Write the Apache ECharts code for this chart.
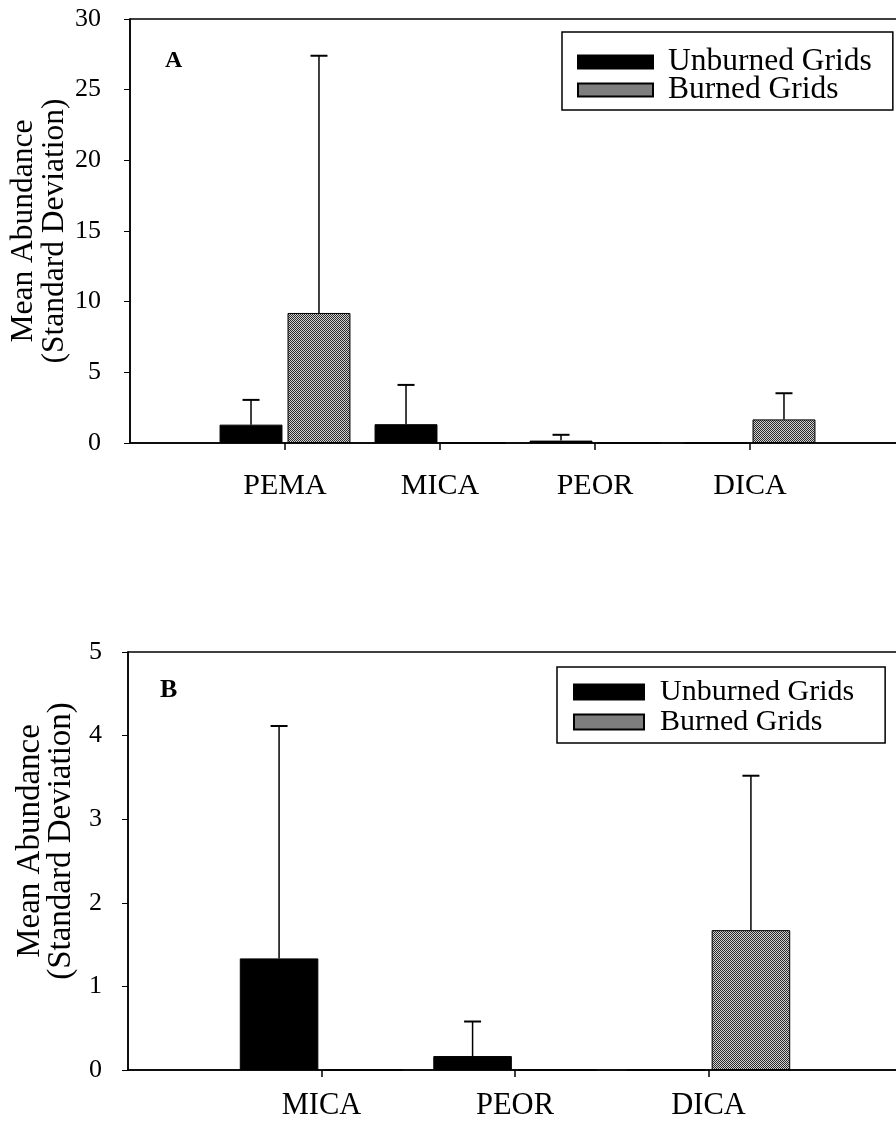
<!DOCTYPE html>
<html><head><meta charset="utf-8">
<script src="https://cdn.jsdelivr.net/npm/echarts@6/dist/echarts.min.js"></script>
<style>html,body{margin:0;padding:0;background:#fff;overflow:hidden;width:896px;height:1133px}#c{width:912px;height:1133px}</style>
</head><body><div id="c"></div>
<script>
// ---- Data (panel A: all species) ----
const speciesA = ['PEMA', 'MICA', 'PEOR', 'DICA'];
const unburnedMeanA = [1.3, 1.33, 0.17, 0];
const unburnedSdA   = [1.75, 2.78, 0.41, 0];
const burnedMeanA   = [9.2, 0, 0, 1.67];
const burnedSdA     = [18.2, 0, 0, 1.85];
const yTicksA = {min: 0, max: 30, interval: 5};

// ---- Data (panel B: rescaled, without PEMA) ----
const speciesB = ['MICA', 'PEOR', 'DICA'];
const unburnedMeanB = [1.335, 0.167, 0];
const unburnedSdB   = [2.78, 0.413, 0];
const burnedMeanB   = [0, 0, 1.673];
const burnedSdB     = [0, 0, 1.847];
const yTicksB = {min: 0, max: 5, interval: 1};

const seriesNames = ['Unburned Grids', 'Burned Grids'];
const panelLabels = ['A', 'B'];
const yTitle = 'Mean Abundance\n(Standard Deviation)';

const FONT = '"Liberation Serif", "Times New Roman", serif';
const BAR_FRAC = 0.406, GAP_FRAC = 0.08, CAP = 17;

// dithered grey fill for burned bars
const pc = document.createElement('canvas');
pc.width = 2; pc.height = 2;
const pctx = pc.getContext('2d');
pctx.fillStyle = '#d2d2d2'; pctx.fillRect(0, 0, 2, 2);
pctx.fillStyle = '#2a2a2a'; pctx.fillRect(0, 0, 1, 1); pctx.fillRect(1, 1, 1, 1);
const PATTERN = {image: pc, repeat: 'repeat'};

function padCats(c) { return [''].concat(c, [' ']); }
function padVals(v) { return ['-'].concat(v, ['-']); }

function errSeries(gi, cats, means, sds, side) {
  const data = [];
  means.forEach((m, i) => { if (sds[i] > 0) data.push([cats[i], m, m + sds[i]]); });
  return {
    type: 'custom', xAxisIndex: gi, yAxisIndex: gi, silent: true, z: 5,
    data: data, encode: {x: 0, y: [1, 2]},
    renderItem: function (params, api) {
      const x = api.value(0);
      const lo = api.coord([x, api.value(1)]);
      const hi = api.coord([x, api.value(2)]);
      const band = api.size([1, 0])[0];
      const bw = band * BAR_FRAC;
      const cx = lo[0] + side * bw * (1 + GAP_FRAC) / 2;
      return {type: 'group', children: [
        {type: 'line', shape: {x1: cx, y1: lo[1], x2: cx, y2: hi[1]}, style: {stroke: '#000', lineWidth: 1.5}},
        {type: 'line', shape: {x1: cx - CAP / 2, y1: hi[1], x2: cx + CAP / 2, y2: hi[1]}, style: {stroke: '#000', lineWidth: 2}}
      ]};
    }
  };
}

function xAxisCfg(gi, cats, labelMargin, fs) {
  const n = cats.length + 2;
  return {
    type: 'category', gridIndex: gi, data: padCats(cats), boundaryGap: false,
    axisLine: {lineStyle: {color: '#000', width: 1.5}},
    axisTick: {show: true, length: 7, lineStyle: {color: '#000', width: 1.5},
      interval: function (idx) { return idx > 0 && idx < n - 1; }},
    axisLabel: {color: '#000', fontFamily: FONT, fontSize: fs, margin: labelMargin,
      interval: 0},
    splitLine: {show: false}
  };
}
function yAxisCfg(gi, t, labelMargin, nameGap, nameSize, namePad) {
  return {
    type: 'value', gridIndex: gi, min: t.min, max: t.max, interval: t.interval,
    axisLine: {show: true, lineStyle: {color: '#000', width: 1.5}},
    axisTick: {show: true, length: 6, lineStyle: {color: '#000', width: 1}},
    axisLabel: {color: '#000', fontFamily: FONT, fontSize: 26, margin: labelMargin},
    splitLine: {show: false},
    name: yTitle, nameLocation: 'middle', nameGap: nameGap, nameMoveOverlap: false,
    nameTextStyle: {color: '#000', fontFamily: FONT, fontSize: nameSize, lineHeight: 31, padding: namePad}
  };
}
function legendCfg(left, top, fs, iw, ih, gap, textPadL, pad) {
  return {
    data: seriesNames, orient: 'vertical', left: left, top: top, icon: 'rect',
    itemWidth: iw, itemHeight: ih, itemGap: gap, selectedMode: false,
    padding: pad, borderColor: '#000', borderWidth: 1.5,
    textStyle: {color: '#000', fontFamily: FONT, fontSize: fs, lineHeight: 28, padding: [0, 0, 0, textPadL]}
  };
}
function barSeries(gi, name, vals, fill) {
  return {
    type: 'bar', name: name, xAxisIndex: gi, yAxisIndex: gi, data: padVals(vals),
    barWidth: (BAR_FRAC * 100) + '%', barGap: (GAP_FRAC * 100) + '%',
    itemStyle: {color: fill, borderColor: '#000', borderWidth: 1}, silent: true, z: 3
  };
}

const chart = echarts.init(document.getElementById('c'), null, {renderer: 'canvas'});
chart.setOption({
  animation: false,
  backgroundColor: '#fff',
  grid: [
    {left: 130, top: 19, height: 424, right: 7, outerBoundsMode: 'none', show: true, borderColor: '#000', borderWidth: 1.5, backgroundColor: 'transparent'},
    {left: 128, top: 652, height: 418, right: 10, outerBoundsMode: 'none', show: true, borderColor: '#000', borderWidth: 1.5, backgroundColor: 'transparent'}
  ],
  xAxis: [xAxisCfg(0, speciesA, 28, 30), xAxisCfg(1, speciesB, 20, 30.5)],
  yAxis: [yAxisCfg(0, yTicksA, 29, 60, 31.5, [0, 0, 0, 0]), yAxisCfg(1, yTicksB, 26, 51, 33, [0, 0, 0, 40])],
  legend: [
    legendCfg(562, 32, 31.5, 75, 13, -4, 10, [14, 21, 4, 15]),
    legendCfg(557, 667, 30, 70, 15, 0, 11, [10, 31, 6, 16])
  ],
  graphic: [
    {type: 'text', left: 165, top: 49, style: {text: panelLabels[0], font: 'bold 24px ' + FONT, fill: '#000'}},
    {type: 'text', left: 160, top: 677, style: {text: panelLabels[1], font: 'bold 26px ' + FONT, fill: '#000'}}
  ],
  series: [
    barSeries(0, seriesNames[0], unburnedMeanA, '#000'),
    barSeries(0, seriesNames[1], burnedMeanA, PATTERN),
    errSeries(0, speciesA, unburnedMeanA, unburnedSdA, -1),
    errSeries(0, speciesA, burnedMeanA, burnedSdA, 1),
    barSeries(1, seriesNames[0], unburnedMeanB, '#000'),
    barSeries(1, seriesNames[1], burnedMeanB, PATTERN),
    errSeries(1, speciesB, unburnedMeanB, unburnedSdB, -1),
    errSeries(1, speciesB, burnedMeanB, burnedSdB, 1)
  ]
});
</script></body></html>
